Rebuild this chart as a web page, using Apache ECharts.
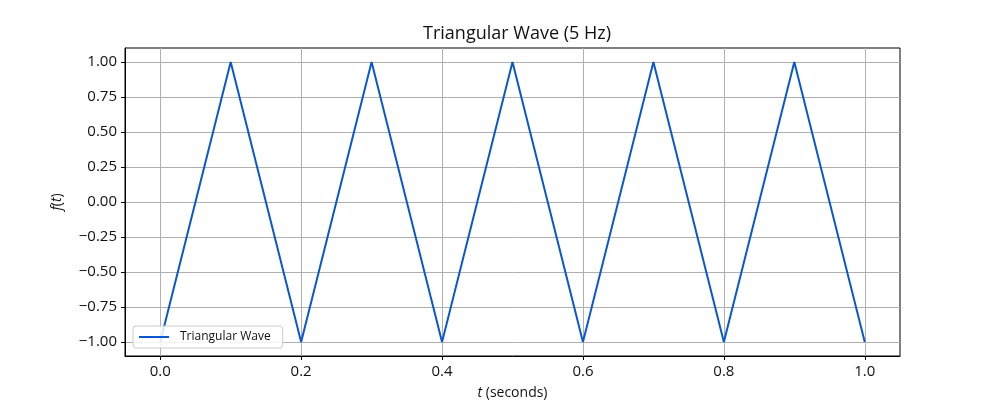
<!DOCTYPE html>
<html><head><meta charset="utf-8">
<script src="https://cdn.jsdelivr.net/npm/echarts@6/dist/echarts.min.js"></script>
<style>html,body{margin:0;padding:0;background:#fff}#c{width:1000px;height:400px}</style>
</head><body><div id="c"></div>
<script>
const times = [0, 0.1, 0.2, 0.3, 0.4, 0.5, 0.6, 0.7, 0.8, 0.9, 1.0];
const values = [-1, 1, -1, 1, -1, 1, -1, 1, -1, 1, -1];
const xTicks = [0, 0.2, 0.4, 0.6, 0.8, 1.0];
const yTicks = [-1, -0.75, -0.5, -0.25, 0, 0.25, 0.5, 0.75, 1];
const FONT = '"Open Sans", sans-serif';
const fmt = (v, d) => (v < 0 ? '\u2212' : '') + Math.abs(v).toFixed(d);
const chart = echarts.init(document.getElementById('c'));
chart.setOption({
  animation: false,
  textStyle: {fontFamily: FONT},
  title: {text: 'Triangular Wave (5 Hz)', left: 512, top: 20, textAlign: 'center',
    textStyle: {fontSize: 18, fontWeight: 'normal', color: '#111', fontFamily: FONT}},
  grid: {left: 125, right: 100, top: 48, bottom: 44, show: true, borderColor: '#000', borderWidth: 1,
    containLabel: false, outerBoundsMode: 'none'},
  legend: {left: 133, top: 326, orient: 'vertical', icon: 'rect', itemWidth: 30, itemHeight: 2,
    padding: [5, 12, 5, 6], itemGap: 5, borderColor: '#ccc', borderWidth: 1, borderRadius: 3,
    backgroundColor: 'rgba(255,255,255,0.85)',
    textStyle: {fontSize: 12, color: '#111', fontFamily: FONT, padding: [0, 0, 0, 6]}},
  xAxis: {type: 'value', min: -0.05, max: 1.05,
    name: '{i|t} (seconds)', nameLocation: 'middle', nameGap: 30,
    nameTextStyle: {fontSize: 14, color: '#111', rich: {i: {fontStyle: 'italic', fontSize: 14, fontFamily: FONT}}},
    axisLine: {onZero: false, lineStyle: {color: '#000'}},
    axisTick: {show: true, length: 4, lineStyle: {color: '#000'}, customValues: xTicks},
    axisLabel: {fontSize: 15, color: '#111', margin: 8, customValues: xTicks, formatter: v => fmt(v, 1)},
    splitLine: {show: true, lineStyle: {color: '#b0b0b0', width: 1}}},
  yAxis: {type: 'value', min: -1.1, max: 1.1,
    name: '{i|f}({i|t})', nameLocation: 'middle', nameGap: 61, nameRotate: 90,
    nameTextStyle: {fontSize: 14, color: '#111', rich: {i: {fontStyle: 'italic', fontSize: 14, fontFamily: FONT}}},
    axisLine: {show: true, onZero: false, lineStyle: {color: '#000'}},
    axisTick: {show: true, length: 4, lineStyle: {color: '#000'}, customValues: yTicks},
    axisLabel: {fontSize: 15, color: '#111', margin: 8, customValues: yTicks, formatter: v => fmt(v, 2)},
    splitLine: {show: true, lineStyle: {color: '#b0b0b0', width: 1}}},
  series: [{name: 'Triangular Wave', type: 'line', showSymbol: false, symbol: 'none',
    data: times.map((t, i) => [t, values[i]]),
    lineStyle: {color: '#0b57d0', width: 2}, itemStyle: {color: '#0b57d0'}}]
});
</script></body></html>
